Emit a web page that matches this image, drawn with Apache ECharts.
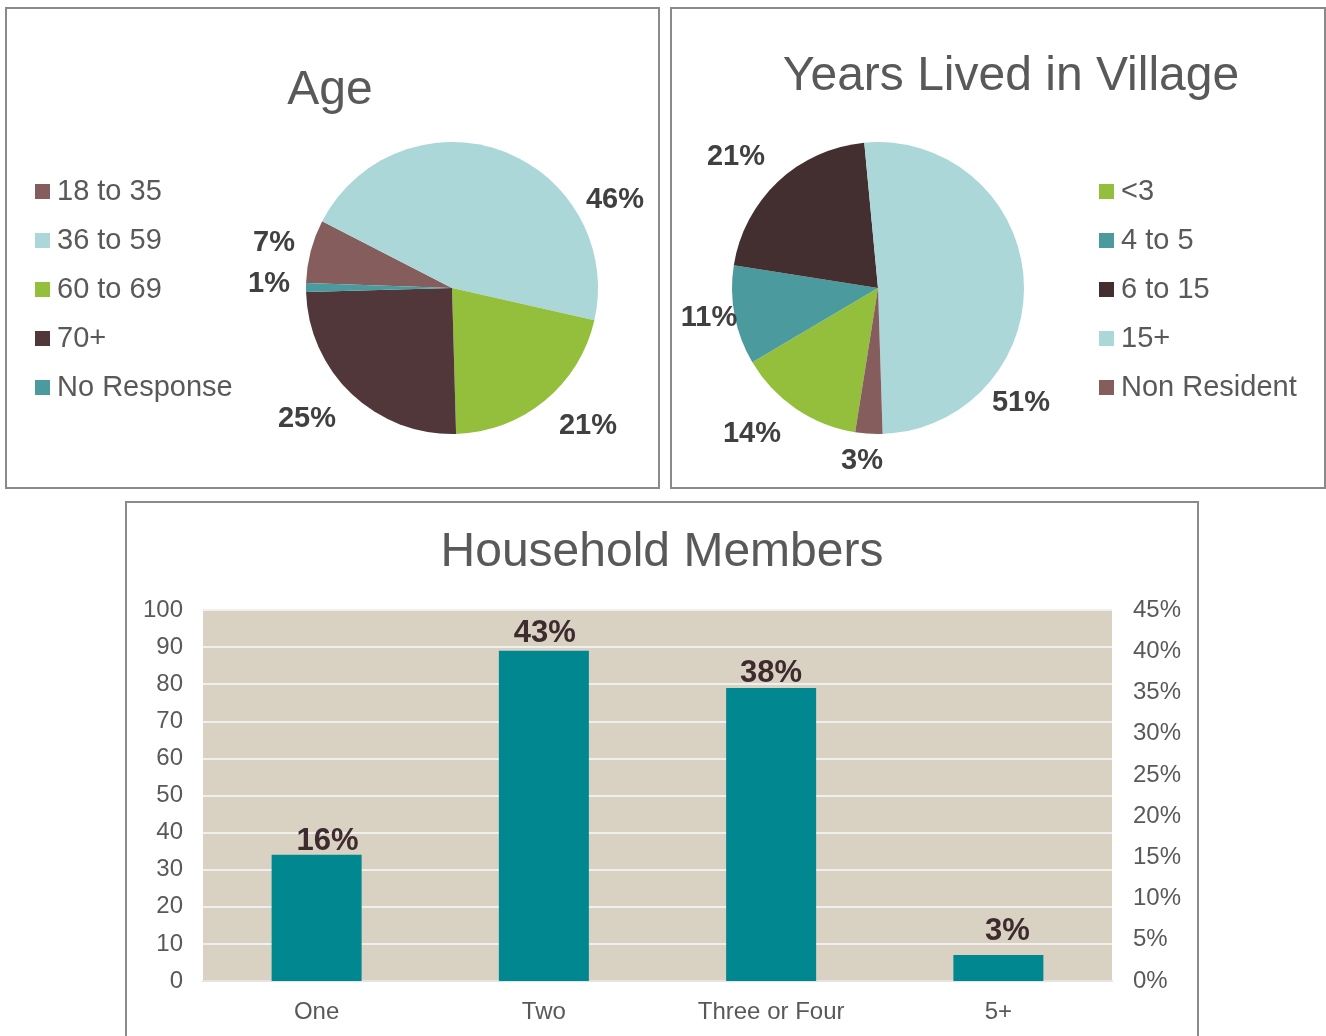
<!DOCTYPE html>
<html>
<head>
<meta charset="UTF-8">
<title>Survey Charts</title>
<script src="https://cdn.jsdelivr.net/npm/echarts@6/dist/echarts.min.js"></script>
<style>
  body { margin: 0; background: #fff; overflow: hidden; }
  #chart { width: 1326px; height: 1036px; }
</style>
</head>
<body>
<div id="chart"></div>
<script>
// Age
const ageNames = ['18 to 35', '36 to 59', '60 to 69', '70+', 'No Response']
const ageValues = [7, 46, 21, 25, 1]

// Years lived in village
const yearNames = ['<3', '4 to 5', '6 to 15', '15+', 'Non Resident']
const yearValues = [14, 11, 21, 51, 3]

// Household members (counts, left axis)
const householdCats = ['One', 'Two', 'Three or Four', '5+']
const householdCounts = [34, 89, 79, 7]

// colours
const ageColors = ['#855d5c', '#abd7d8', '#93bf3d', '#51373a', '#4a9a9e']
const yearColors = ['#93bf3d', '#4a9a9e', '#432e30', '#abd7d8', '#855d5c']

// label anchors, offset from the pie centre (Excel "best fit" look)
const ageLabelPos = [[-178, -45], [163, -88], [136, 138], [-145, 131], [-183, -4]]
const yearLabelPos = [[-126, 146], [-169, 30], [-142, -131], [143, 115], [-16, 173]]
// small nudges of the bar labels, as in the original
const barLabelNudge = [[11, 6], [1, 2], [0, 5], [9, -4]]

const FONT = "'Liberation Sans', Arial, sans-serif"
const GRAY = '#595959'
const AGE_C = [452, 288]
const YEAR_C = [878, 288]

const total = householdCounts.reduce((a, b) => a + b, 0)

function pieSeries(names, values, colors, center, start, labelPos) {
  return {
    type: 'pie',
    center: center,
    radius: 146,
    startAngle: start,
    clockwise: true,
    avoidLabelOverlap: false,
    silent: true,
    data: names.map((n, i) => ({ name: n, value: values[i], itemStyle: { color: colors[i] } })),
    label: {
      show: true,
      position: 'outside',
      formatter: p => Math.round(p.percent) + '%',
      fontSize: 29,
      fontWeight: 'bold',
      color: '#404040',
      fontFamily: FONT
    },
    labelLine: { show: false },
    labelLayout: p => ({
      x: center[0] + labelPos[p.dataIndex][0],
      y: center[1] + labelPos[p.dataIndex][1],
      align: 'center',
      verticalAlign: 'middle'
    })
  }
}

function legendFor(names, left) {
  return {
    orient: 'vertical',
    left: left,
    top: 177,
    padding: 0,
    icon: 'rect',
    itemWidth: 15,
    itemHeight: 15,
    itemGap: 20,
    selectedMode: false,
    data: names,
    textStyle: { fontSize: 29, color: GRAY, fontFamily: FONT, padding: [0, 0, 0, 2] }
  }
}

function titleFor(text, x, y) {
  return {
    text: text, left: x, top: y, padding: 0, textAlign: 'center',
    textStyle: { fontSize: 48, fontWeight: 'normal', color: GRAY, fontFamily: FONT }
  }
}

const chart = echarts.init(document.getElementById('chart'))
chart.setOption({
  animation: false,
  textStyle: { fontFamily: FONT },
  title: [
    titleFor('Age', 330, 67),
    titleFor('Years Lived in Village', 1011, 53),
    titleFor('Household Members', 662, 529)
  ],
  legend: [legendFor(ageNames, 35), legendFor(yearNames, 1099)],
  graphic: [
    { type: 'rect', shape: { x: 6, y: 8, width: 653, height: 480 }, style: { fill: 'none', stroke: '#8a8a8a', lineWidth: 2 }, silent: true },
    { type: 'rect', shape: { x: 671, y: 8, width: 654, height: 480 }, style: { fill: 'none', stroke: '#8a8a8a', lineWidth: 2 }, silent: true },
    { type: 'rect', shape: { x: 126, y: 502, width: 1072, height: 560 }, style: { fill: 'none', stroke: '#8a8a8a', lineWidth: 2 }, silent: true }
  ],
  grid: { left: 203, right: 214, top: 610, bottom: 55, show: true, backgroundColor: '#d9d1c2', borderWidth: 0 },
  xAxis: {
    type: 'category',
    data: householdCats,
    axisLine: { show: true, lineStyle: { color: '#e4e4e4', width: 2 } },
    axisTick: { show: false },
    axisLabel: { fontSize: 24, color: GRAY, margin: 19, fontFamily: FONT }
  },
  yAxis: [
    {
      type: 'value', min: 0, max: 100, interval: 10,
      axisLine: { show: false }, axisTick: { show: false },
      splitLine: { lineStyle: { color: '#efefef', width: 2 } },
      axisLabel: { fontSize: 24, color: GRAY, margin: 20, fontFamily: FONT }
    },
    {
      type: 'value', min: 0, max: 0.45, interval: 0.05, position: 'right',
      axisLine: { show: false }, axisTick: { show: false }, splitLine: { show: false },
      axisLabel: { fontSize: 24, color: GRAY, margin: 21, fontFamily: FONT, formatter: v => Math.round(v * 100) + '%' }
    }
  ],
  series: [
    pieSeries(ageNames, ageValues, ageColors, AGE_C, 178, ageLabelPos),
    pieSeries(yearNames, yearValues, yearColors, YEAR_C, 261, yearLabelPos),
    {
      type: 'bar',
      data: householdCounts.map((v, i) => ({ value: v, label: { offset: barLabelNudge[i] } })),
      barWidth: 90,
      silent: true,
      itemStyle: { color: '#00878f' },
      label: {
        show: true,
        position: 'top',
        distance: 4,
        formatter: p => Math.round(p.value / total * 100) + '%',
        fontSize: 31,
        fontWeight: 'bold',
        color: '#3d2b2e',
        fontFamily: FONT
      }
    }
  ]
})
</script>
</body>
</html>
